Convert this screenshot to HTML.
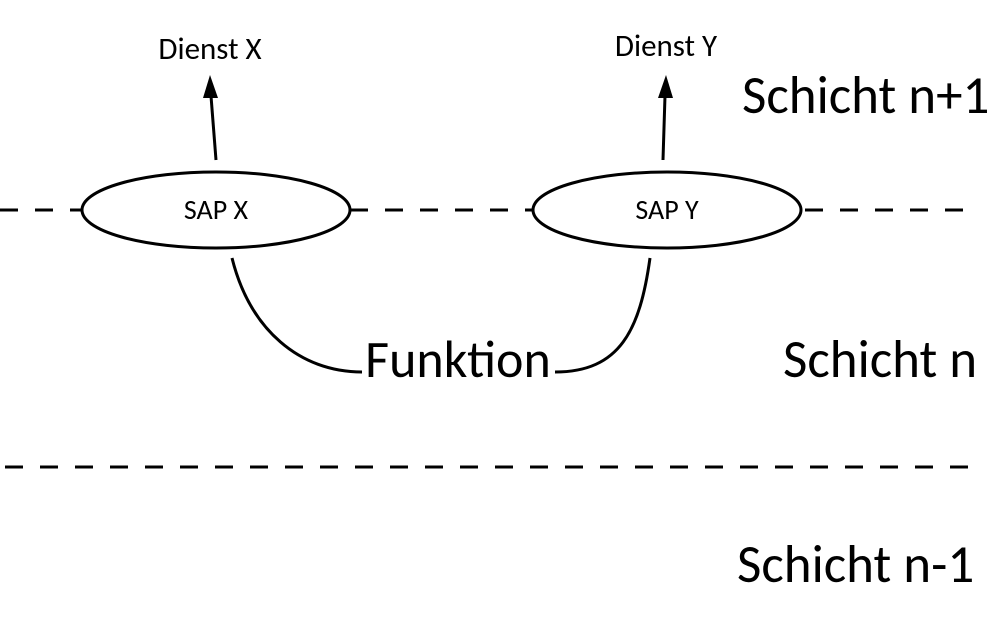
<!DOCTYPE html>
<html><head><meta charset="utf-8"><style>
html,body{margin:0;padding:0;background:#fff;}
svg{display:block;}
text{font-family:"Carlito","Liberation Sans",sans-serif;fill:#000;}
</style></head><body>
<svg width="987" height="617" viewBox="0 0 987 617" xmlns="http://www.w3.org/2000/svg">
<line x1="0" y1="210" x2="980" y2="210" stroke="#000" stroke-width="3" stroke-dasharray="18,17"/>
<line x1="5" y1="467" x2="980" y2="467" stroke="#000" stroke-width="3" stroke-dasharray="18,17"/>
<ellipse cx="216" cy="210" rx="134" ry="38" fill="#fff" stroke="#000" stroke-width="3"/>
<ellipse cx="667" cy="210" rx="134" ry="38" fill="#fff" stroke="#000" stroke-width="3"/>
<text x="216" y="219" font-size="28" text-anchor="middle">SAP X</text>
<text x="667" y="219" font-size="28" text-anchor="middle">SAP Y</text>
<path d="M216,160 L211,96" stroke="#000" stroke-width="3" fill="none"/>
<path d="M210,75 L203,98 L218,98 Z" fill="#000"/>
<path d="M663,160 L665,96" stroke="#000" stroke-width="3" fill="none"/>
<path d="M666,75 L658,98 L673,98 Z" fill="#000"/>
<text x="210" y="59" font-size="31" text-anchor="middle">Dienst X</text>
<text x="666" y="56" font-size="31" text-anchor="middle">Dienst Y</text>
<path d="M232,258 C250,330 300,372 362,372" stroke="#000" stroke-width="3" fill="none"/>
<path d="M650,258 C640,330 620,372 555,372" stroke="#000" stroke-width="3" fill="none"/>
<text x="458" y="377" font-size="52" text-anchor="middle">Funktion</text>
<text x="742" y="113" font-size="53">Schicht n+1</text>
<text x="783" y="377" font-size="53">Schicht n</text>
<text x="737" y="582" font-size="53">Schicht n-1</text>
</svg>
</body></html>
